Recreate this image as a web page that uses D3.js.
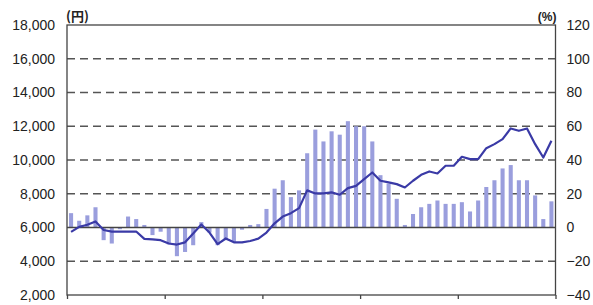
<!DOCTYPE html>
<html>
<head>
<meta charset="utf-8">
<script src="https://cdn.jsdelivr.net/npm/d3@7"></script>
<style>
  body { margin: 0; background: #fff; }
  text { font-family: "Liberation Sans", Arial, sans-serif; fill: #222; }
</style>
</head>
<body>
<div id="chart"></div>
<script>
// monthly data, 5 years (no x labels in the original)
const yearTicks = [0, 12, 24, 36, 48, 60];
const leftTicks = [2000, 4000, 6000, 8000, 10000, 12000, 14000, 16000, 18000];
const rightTicks = [-40, -20, 0, 20, 40, 60, 80, 100, 120];

// year-on-year change (%), bars, right axis
const changePct = [8.5, 4, 7.2, 12, -7.5, -9.5, -1, 6.5, 5, 1.5, -4.5, -2.5,
  -10, -17, -14.5, -10.5, 3.2, -3, -10.5, -7.5, -8.5, -1.3, 1.5, 2,
  11, 23, 28, 18, 22, 44, 58, 51, 57, 55, 63, 60,
  60, 51, 31, 26, 17, 1.5, 8, 12, 14, 16, 14, 14,
  15, 9.5, 16, 24, 28, 35, 37, 28, 28, 19, 5, 15.5];

// price (yen), line, left axis
const priceYen = [5740, 6040, 6160, 6360, 5850, 5760, 5760, 5760, 5760, 5330, 5300, 5250,
  5050, 4990, 5120, 5640, 6180, 5700, 5020, 5350, 5120, 5120, 5200, 5340,
  5700, 6250, 6650, 6850, 7150, 8200, 8020, 8020, 8080, 7940, 8330, 8470,
  8870, 9260, 8770, 8670, 8570, 8370, 8770, 9120, 9320, 9200, 9660, 9660,
  10190, 10050, 10050, 10700, 10940, 11240, 11870, 11730, 11870, 10940, 10150, 11140];

const width = 593, height = 305;
const x0 = 67, x1 = 555.5, yTop = 25, yBot = 295;

const svg = d3.select('#chart').append('svg')
  .attr('width', width)
  .attr('height', height);

const months = d3.range(changePct.length);

const xBand = d3.scaleBand().domain(months).range([x0, x1]).paddingInner(0.5).paddingOuter(0.25);
const xLin = d3.scaleLinear().domain([0, 60]).range([x0, x1]);
const yL = d3.scaleLinear().domain([2000, 18000]).range([yBot, yTop]);
const yR = d3.scaleLinear().domain([-40, 120]).range([yBot, yTop]);

// dashed gridlines
svg.append('g')
  .selectAll('line')
  .data(leftTicks.filter(t => t !== 2000 && t !== 18000 && t !== 6000))
  .enter().append('line')
  .attr('x1', x0).attr('x2', x1)
  .attr('y1', d => yL(d)).attr('y2', d => yL(d))
  .attr('stroke', '#555')
  .attr('stroke-width', 1.4)
  .attr('stroke-dasharray', '8,5');

// bars
svg.append('g')
  .selectAll('rect')
  .data(changePct)
  .enter().append('rect')
  .attr('x', (d, i) => xBand(i))
  .attr('width', xBand.bandwidth())
  .attr('y', d => Math.min(yR(d), yR(0)))
  .attr('height', d => Math.abs(yR(d) - yR(0)))
  .attr('fill', '#9a9edd');

// zero line
svg.append('line')
  .attr('x1', x0).attr('x2', x1)
  .attr('y1', yR(0)).attr('y2', yR(0))
  .attr('stroke', '#444')
  .attr('stroke-width', 1.3);

// price line
const line = d3.line()
  .x((d, i) => xBand(i) + xBand.bandwidth() / 2)
  .y(d => yL(d));

svg.append('path')
  .datum(priceYen)
  .attr('d', line)
  .attr('fill', 'none')
  .attr('stroke', '#3a3aa6')
  .attr('stroke-width', 2.2)
  .attr('stroke-linejoin', 'round');

// frame
svg.append('rect')
  .attr('x', x0).attr('y', yTop)
  .attr('width', x1 - x0).attr('height', yBot - yTop)
  .attr('fill', 'none')
  .attr('stroke', '#444')
  .attr('stroke-width', 1.3);

// axes
const fmt = d3.format(',');
const leftAxis = d3.axisLeft(yL).tickValues(leftTicks).tickSize(0).tickPadding(12).tickFormat(fmt);
const rightAxis = d3.axisRight(yR).tickValues(rightTicks).tickSize(0).tickPadding(11)
  .tickFormat(d => d < 0 ? '\u2212' + Math.abs(d) : d);
const bottomAxis = d3.axisBottom(xLin).tickValues(yearTicks).tickSize(4).tickFormat('');

svg.append('g').attr('transform', `translate(${x0},0)`).call(leftAxis)
  .call(g => g.select('.domain').remove())
  .selectAll('text').style('font-size', '14px').attr('font-family', null);

svg.append('g').attr('transform', `translate(${x1},0)`).call(rightAxis)
  .call(g => g.select('.domain').remove())
  .selectAll('text').style('font-size', '14px').attr('font-family', null);

svg.append('g').attr('transform', `translate(0,${yBot})`).call(bottomAxis)
  .call(g => g.select('.domain').remove())
  .selectAll('line').attr('stroke', '#444').attr('stroke-width', 1.3);

// unit labels
svg.append('text')
  .attr('x', x0 - 1).attr('y', 21)
  .style('font-size', '13px')
  .style('font-weight', 'bold')
  .style('font-family', '"Noto Sans CJK JP", sans-serif')
  .text('(円)');

svg.append('text')
  .attr('x', x1 + 1).attr('y', 21)
  .attr('text-anchor', 'end')
  .style('font-size', '12px')
  .style('font-weight', 'bold')
  .text('(%)');
</script>
</body>
</html>
